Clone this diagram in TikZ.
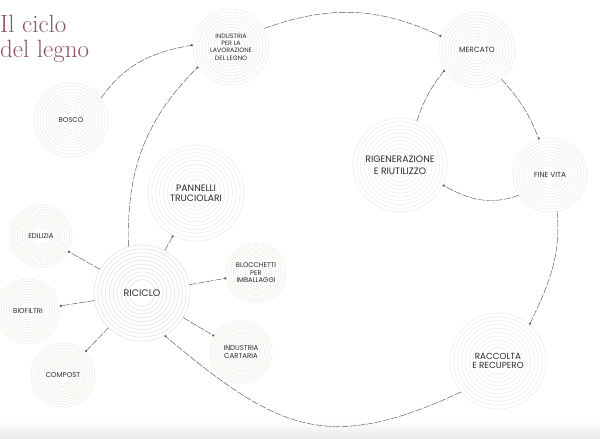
\documentclass[tikz,border=0pt]{standalone}
\usepackage{fontspec}
\newfontfamily\labfont{Poppins}
\usetikzlibrary{arrows.meta,backgrounds}
\definecolor{ringbeige}{HTML}{F1ECE6}
\definecolor{ringblue}{HTML}{E0E4EB}
\definecolor{linegray}{HTML}{555555}
\definecolor{labtext}{HTML}{2B2B2B}
\definecolor{titlecol}{HTML}{8B5366}
\newcommand\ringsof[3]{%
  \foreach \k in {0,...,9}{%
    \pgfmathsetmacro\rr{#2*(1-0.08*\k)}%
    \draw[#3, line width=0.65pt] (#1.center) circle[radius=\rr pt];}}
\begin{document}
\begin{tikzpicture}[x=1pt,y=-1pt,
  lab/.style={circle, inner sep=0pt, align=center, text=labtext,
    font=\labfont\fontsize{7}{8.5}\selectfont},
  big/.style={font=\labfont\fontsize{9.5}{11}\selectfont},
  conn/.style={draw=linegray, line width=0.45pt, dash pattern=on 7pt off 1.5pt,
    -{Circle[length=2.2pt]}},
  titletext/.style={anchor=base west, inner sep=0pt, text=titlecol,
    font=\fontsize{25}{28}\selectfont}
]
\useasboundingbox (0,0) rectangle (600,439);
\shade[top color=white, bottom color=black!9] (0,421) rectangle (600,439);

\node[titletext] (t1) at (0,32) {Il ciclo};
\node[titletext] (t2) at (0,57) {del legno};

\node[lab, minimum size=76pt, font=\labfont\fontsize{6.3}{7.4}\selectfont] (ind) at (231,47) {INDUSTRIA\\PER LA\\LAVORAZIONE\\DEL LEGNO};
\node[lab, minimum size=74pt] (bosco) at (71,120) {BOSCO};
\node[lab, minimum size=96pt, font=\labfont\fontsize{9.3}{10}\selectfont] (pann) at (196,193) {PANNELLI\\TRUCIOLARI};
\node[lab, minimum size=76pt, font=\labfont\fontsize{7.5}{9}\selectfont] (merc) at (477,50) {MERCATO};
\node[lab, minimum size=94pt, font=\labfont\fontsize{9.3}{12}\selectfont] (rig) at (400,165) {RIGENERAZIONE\\E RIUTILIZZO};
\node[lab, minimum size=74pt, font=\labfont\fontsize{7.3}{9}\selectfont] (fine) at (550,175) {FINE VITA};
\node[lab, minimum size=96pt, font=\labfont\fontsize{8.8}{9.5}\selectfont] (racc) at (498,361) {RACCOLTA\\E RECUPERO};
\node[lab, minimum size=96pt, big] (ric) at (142,293) {RICICLO};
\node[lab, minimum size=62pt] (edil) at (41,236) {EDILIZIA};
\node[lab, minimum size=64pt] (bio) at (28,311) {BIOFILTRI};
\node[lab, minimum size=64pt] (comp) at (63,375) {COMPOST};
\node[lab, minimum size=60pt, font=\labfont\fontsize{6.8}{7.5}\selectfont] (bloc) at (256,273) {BLOCCHETTI\\PER\\IMBALLAGGI};
\node[lab, minimum size=62pt, font=\labfont\fontsize{7}{7.7}\selectfont] (cart) at (241,352) {INDUSTRIA\\CARTARIA};

\begin{scope}[on background layer]
\ringsof{ind}{38}{ringbeige}
\ringsof{bosco}{37}{ringbeige}
\ringsof{pann}{48}{ringbeige}
\ringsof{merc}{38}{ringbeige}
\ringsof{rig}{47}{ringbeige}
\ringsof{fine}{37}{ringbeige}
\ringsof{racc}{48}{ringbeige}
\ringsof{ric}{48}{ringblue}
\ringsof{edil}{31}{ringbeige}
\ringsof{bio}{32}{ringbeige}
\ringsof{comp}{32}{ringbeige}
\ringsof{bloc}{30}{ringbeige}
\ringsof{cart}{31}{ringbeige}
\end{scope}

\draw[conn] (bosco.36) to[out=55,in=190] (ind.177);
\draw[conn] (ind.29) to[out=20,in=155] (merc.159);
\draw[conn] (merc.-50) to[bend left=10] (fine.107);
\draw[conn] (fine.213) to[out=200,in=-30] (rig.-25);
\draw[conn] (rig.69) to[bend left=10] (merc.212);
\draw[conn] (fine.-79) to[out=-85,in=65] (racc.49);
\draw[conn] (racc.220) to[out=205,in=-40,looseness=1.25] (ric.-62);
\draw[conn] (ric.106) to[out=92,in=225] (ind.211);

\draw[conn] (ric) -- (pann);
\draw[conn] (ric) -- (bloc);
\draw[conn] (ric) -- (cart);
\draw[conn] (ric) -- (edil);
\draw[conn] (ric) -- (bio);
\draw[conn] (ric) -- (comp);
\end{tikzpicture}
\end{document}
